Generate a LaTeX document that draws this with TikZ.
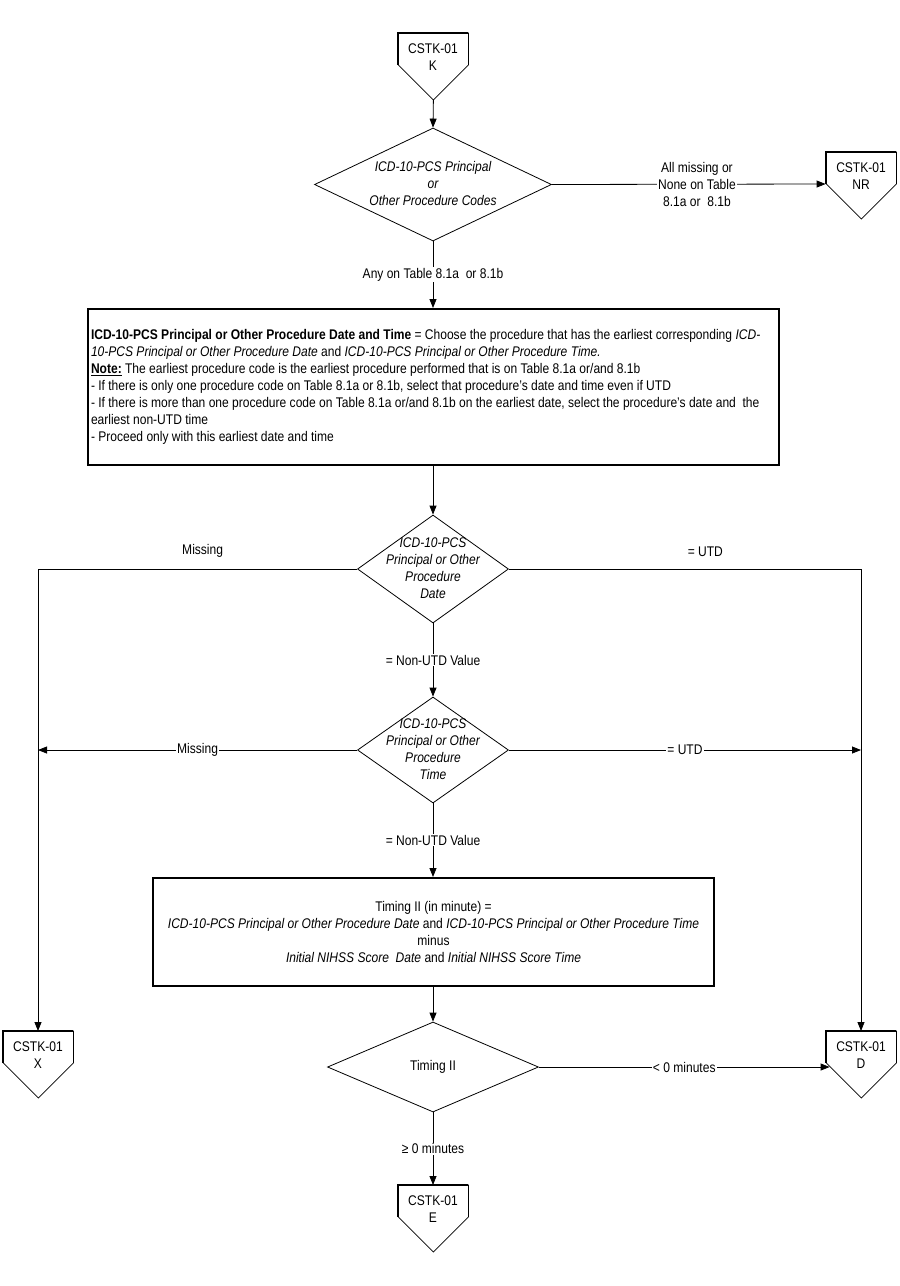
\documentclass[tikz,border=0pt]{standalone}
\usepackage{fontspec}
\setmainfont{Liberation Sans}[FakeStretch=0.86]
\usepackage{tikz}
\usetikzlibrary{arrows.meta}
\usetikzlibrary{calc}
\usetikzlibrary{shapes.geometric}

% text inside a diamond, with no size of its own
\newcommand{\dtext}[1]{\smash{\makebox[0pt]{\lower4pt\hbox{\begin{tabular}{@{}c@{}}#1\end{tabular}}}}}

% off-page connector: name, top centre, letter
\newcommand{\offpage}[3]{%
	\node[conn] (#1) at #2 {CSTK-01\\#3};
	\draw (#1.north west) -- (#1.north east) -- ++(0,32) -- ++(-35,35) coordinate (#1 tip) -- ++(-35,-35) -- cycle;
	\draw[line width=1.8pt] ($(#1.north west)+(0,32)$) -- (#1.north west) -- (#1.north east);
	\coordinate (#1 w) at ($(#1.north west)+(0,32)$);
}

\begin{document}
\fontsize{14}{17}\selectfont
\begin{tikzpicture}[x=1pt,y=-1pt,->,>={Triangle[length=9pt,width=7pt]},line width=0.8pt,
	conn/.style={rectangle,anchor=north,minimum width=70pt,minimum height=48pt,inner sep=0pt,align=flush center},
	dia/.style={diamond,draw,inner sep=0pt,font=\itshape},
	procbox/.style={rectangle,draw,line width=2pt},
	lbl/.style={fill=white,inner sep=1pt,align=flush center}]

	\useasboundingbox (0,0) rectangle (900,1286);

	\begin{scope}[-]
		\offpage{K}{(433,33)}{K}
		\offpage{NR}{(861,152)}{NR}
		\offpage{X}{(38,1031)}{X}
		\offpage{D}{(861,1031)}{D}
		\offpage{E}{(433,1185)}{E}
	\end{scope}

	\node[dia,minimum width=237pt,minimum height=113pt] (codes) at (433,184.5) {\dtext{ICD-10-PCS Principal\\or\\Other Procedure Codes}};

	\node[procbox,minimum width=691pt,minimum height=156pt,text width=685pt,inner xsep=3pt,align=flush left] (earliest) at (433.5,387) {\textbf{ICD-10-PCS Principal or Other Procedure Date and Time} = Choose the procedure that has the earliest corresponding \textit{ICD-}\\
	\textit{10-PCS Principal or Other Procedure Date} and \textit{ICD-10-PCS Principal or Other Procedure Time.}\\
	\underline{\textbf{Note:}} The earliest procedure code is the earliest procedure performed that is on Table 8.1a or/and 8.1b\\
	- If there is only one procedure code on Table 8.1a or 8.1b, select that procedure’s date and time even if UTD\\
	- If there is more than one procedure code on Table 8.1a or/and 8.1b on the earliest date, select the procedure’s date and\ \ the\\
	earliest non-UTD time\\
	- Proceed only with this earliest date and time};

	\node[dia,minimum width=151pt,minimum height=108pt] (pdate) at (433,569) {\dtext{ICD-10-PCS\\Principal or Other\\Procedure\\Date}};
	\node[dia,minimum width=151pt,minimum height=106pt] (ptime) at (433,750) {\dtext{ICD-10-PCS\\Principal or Other\\Procedure\\Time}};

	\node[procbox,minimum width=561pt,minimum height=108pt,align=flush center] (timing) at (433.5,932) {Timing II (in minute) =\\
	\textit{ICD-10-PCS Principal or Other Procedure Date} and \textit{ICD-10-PCS Principal or Other Procedure Time}\\
	minus\\
	\textit{Initial NIHSS Score\ \ Date} and \textit{Initial NIHSS Score Time}};

	\node[dia,font=\upshape,minimum width=211pt,minimum height=90pt] (tcheck) at (433,1067) {Timing II};

	% connectors
	\draw (K tip) -- (codes.north);
	\draw (codes.east) -- node[lbl,pos=0.53] {All missing or\\None on Table\\8.1a or\ \ 8.1b} (NR w);
	\draw (codes.south) -- node[lbl] {Any on Table 8.1a\ \ or 8.1b} (codes.south |- earliest.north);
	\draw (codes.south |- earliest.south) -- (pdate.north);
	\draw (pdate.west) -| node[pos=0.242,above=7pt] {Missing} (X.north);
	\draw (pdate.east) -| node[pos=0.279,above=7pt] {= UTD} (D.north);
	\draw (pdate.south) -- node[lbl] {= Non-UTD Value} (ptime.north);
	\draw (ptime.west) -- node[lbl] {Missing} (ptime.west -| X.north);
	\draw (ptime.east) -- node[lbl] {= UTD} (ptime.east -| D.north);
	\draw (ptime.south) -- node[lbl] {= Non-UTD Value} (ptime.south |- timing.north);
	\draw (ptime.south |- timing.south) -- (tcheck.north);
	\draw (tcheck.east) -- node[lbl] {< 0 minutes} ($(tcheck.east -| D.west)+(4,0)$);
	\draw (tcheck.south) -- node[lbl] {≥ 0 minutes} (E.north);

\end{tikzpicture}
\end{document}
